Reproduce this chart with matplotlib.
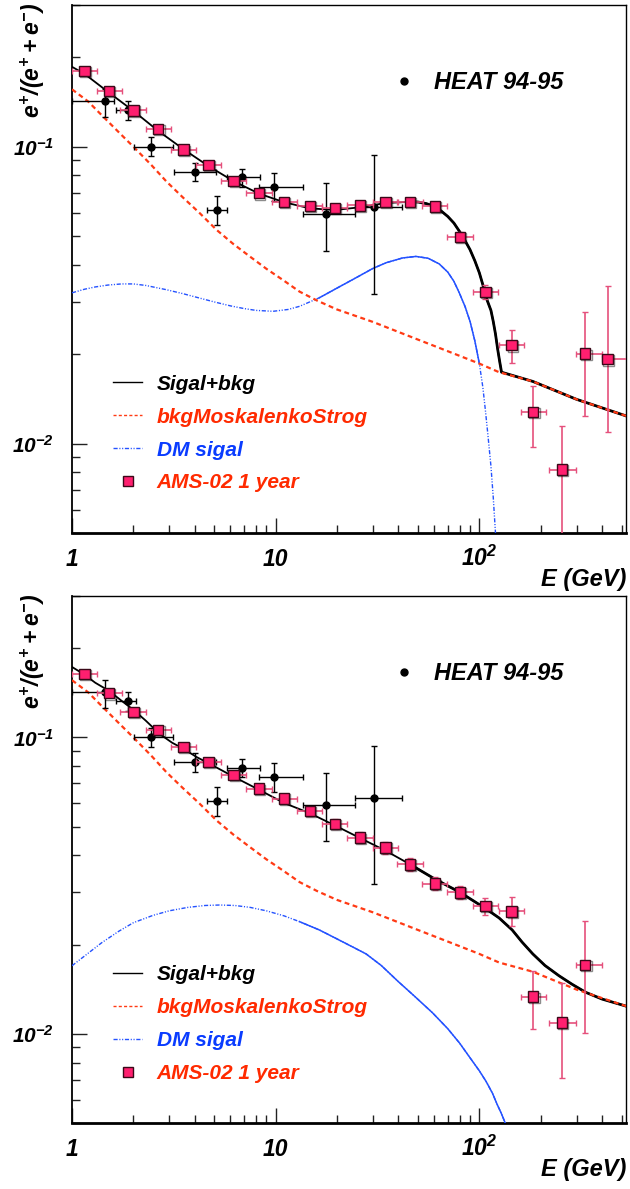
import matplotlib
matplotlib.use("Agg")
import matplotlib.pyplot as plt
import matplotlib.patheffects as pe
from matplotlib.lines import Line2D
from matplotlib.ticker import FixedLocator, FixedFormatter, LogLocator, NullFormatter

# ---- fonts (ROOT-like bold italic helvetica) ----
plt.rcParams["font.family"] = ["Liberation Sans", "DejaVu Sans"]
plt.rcParams["mathtext.fontset"] = "custom"
plt.rcParams["mathtext.rm"] = "Liberation Sans:bold:italic"
plt.rcParams["mathtext.it"] = "Liberation Sans:bold:italic"
plt.rcParams["mathtext.bf"] = "Liberation Sans:bold:italic"

# ---- data ----
# AMS-02 1 year (simulated), energy bins
ams_E = [1.15, 1.52, 2.0, 2.65, 3.53, 4.68, 6.22, 8.28, 11.0, 14.7, 19.5,
         25.9, 34.6, 45.7, 60.4, 80.4, 107, 144, 184, 255, 331, 426]
ams_Elo = [1.00, 1.32, 1.73, 2.30, 3.06, 4.06, 5.39, 7.18, 9.54, 12.7, 16.9,
           22.5, 30.0, 39.6, 52.4, 69.7, 92.8, 125, 160, 221, 298, 398]
ams_Ehi = [1.33, 1.75, 2.31, 3.06, 4.07, 5.40, 7.17, 9.55, 12.7, 16.9, 22.5,
           29.9, 39.9, 52.7, 69.6, 92.7, 123, 166, 212, 298, 398, 540]

# top panel
ams1 = [0.180, 0.154, 0.1325, 0.1147, 0.0977, 0.0868, 0.0767, 0.0697, 0.0652,
        0.0631, 0.0621, 0.0634, 0.0652, 0.0652, 0.0629, 0.0497, 0.0324,
        0.02145, 0.01277, 0.00818, 0.0201, 0.01924]
ams1_lo = [0.005, 0.0045, 0.004, 0.0035, 0.003, 0.0026, 0.0023, 0.0021, 0.002,
           0.002, 0.002, 0.002, 0.002, 0.002, 0.002, 0.0018, 0.0018,
           0.0028, 0.0030, 0.0052, 0.0077, 0.0083]
ams1_hi = [0.005, 0.0045, 0.004, 0.0035, 0.003, 0.0026, 0.0023, 0.0021, 0.002,
           0.002, 0.002, 0.002, 0.002, 0.002, 0.002, 0.0018, 0.0018,
           0.0026, 0.0029, 0.0033, 0.0076, 0.0146]

# bottom panel (last point lies below the frame)
ams2 = [0.164, 0.141, 0.122, 0.1059, 0.0928, 0.0828, 0.0747, 0.0672, 0.0622,
        0.0564, 0.051, 0.0459, 0.0425, 0.0373, 0.0321, 0.0300, 0.0270,
        0.0259, 0.01334, 0.0109, 0.0171, 0.0045]
ams2_lo = [0.005, 0.0045, 0.004, 0.0035, 0.003, 0.0026, 0.0023, 0.0021, 0.002,
           0.002, 0.002, 0.002, 0.002, 0.0018, 0.0016, 0.0015, 0.0018,
           0.0028, 0.0030, 0.0038, 0.0070, 0.0003]
ams2_hi = [0.005, 0.0045, 0.004, 0.0035, 0.003, 0.0026, 0.0023, 0.0021, 0.002,
           0.002, 0.002, 0.002, 0.002, 0.0018, 0.0016, 0.0015, 0.0018,
           0.0031, 0.0030, 0.0039, 0.0070, 0.0003]

# HEAT 94-95
heat_E = [1.446, 1.875, 2.44, 4.01, 5.14, 6.87, 9.81, 17.72, 30.3]
heat_Elo = [1.0, 1.65, 2.02, 3.15, 4.59, 5.77, 8.27, 13.58, 24.4]
heat_Ehi = [1.6, 2.07, 3.14, 5.12, 5.75, 8.4, 13.58, 24.4, 41.8]
heat_val = [0.1428, 0.1328, 0.1000, 0.0824, 0.0610, 0.0789, 0.0734, 0.0593, 0.0626]
heat_lo = [0.0167, 0.0099, 0.0069, 0.0057, 0.0065, 0.0055, 0.0080, 0.0146, 0.0307]
heat_hi = [0.0132, 0.0096, 0.0075, 0.0060, 0.0073, 0.0055, 0.0084, 0.0164, 0.0309]

# background (Moskalenko & Strong)
bkg_E = [1.0, 1.2, 1.37, 1.65, 2.0, 2.45, 2.91, 3.5, 4.24, 5.12, 6.2, 7.46, 9.0,
         10.9, 13.1, 16.0, 20, 30, 50, 75, 100, 125, 183, 300, 525]
bkg_val = [0.156, 0.142, 0.1295, 0.114, 0.100, 0.0868, 0.0763, 0.0675, 0.0597,
           0.0525, 0.0470, 0.0427, 0.0388, 0.0355, 0.0325, 0.0303, 0.0283,
           0.0257, 0.0224, 0.0201, 0.0186, 0.0174, 0.0162, 0.0141, 0.0124]

# DM signal, top panel
dm1_E = [1.0, 1.15, 1.3, 1.5, 1.75, 2.0, 2.3, 2.9, 3.5, 4.24, 5.0, 6.0, 7.0,
         8.0, 9.7, 11.5, 13.1, 16.4, 20, 25, 30, 35, 42, 48.8, 56, 63.5, 70,
         75, 79.7, 85, 90, 95, 100, 104, 107, 110, 114, 117, 120, 123, 125]
dm1_val = [0.0322, 0.0331, 0.0337, 0.0342, 0.0345, 0.0345, 0.0341, 0.0330,
           0.0320, 0.0309, 0.0300, 0.0291, 0.0285, 0.0281, 0.0279, 0.0283,
           0.0290, 0.0310, 0.0334, 0.0363, 0.0389, 0.0407, 0.0422, 0.0427,
           0.0421, 0.0403, 0.0378, 0.0352, 0.0322, 0.0290, 0.0258, 0.0222,
           0.0186, 0.0155, 0.0130, 0.0108, 0.0084, 0.0066, 0.0050, 0.0035,
           0.0025]

# signal + background, top panel
sig1_E = [1.0, 1.15, 1.52, 2.0, 2.65, 3.53, 4.68, 6.22, 8.28, 11.0, 14.7, 19.5,
          25.9, 34.6, 45.7, 50, 55, 60.4, 65, 70, 75, 80.4, 85, 90, 95, 100,
          104, 107, 110, 114, 117, 120, 123, 126, 128.5, 183, 300, 525]
sig1_val = [0.1857, 0.176, 0.152, 0.132, 0.113, 0.098, 0.086, 0.0765, 0.0695,
            0.0650, 0.0620, 0.0612, 0.0625, 0.0646, 0.0652, 0.0651, 0.0643,
            0.0629, 0.0607, 0.0582, 0.0553, 0.0515, 0.0483, 0.0450, 0.0413,
            0.0376, 0.0343, 0.0316, 0.0300, 0.0281, 0.0258, 0.0234, 0.0208,
            0.0188, 0.0174, 0.0162, 0.0141, 0.0124]

# DM signal, bottom panel
dm2_E = [1.0, 1.2, 1.4, 1.7, 2.0, 2.5, 3.0, 3.7, 4.5, 5.3, 6.3, 7.5, 9.0, 11,
         13.1, 16.4, 20, 24, 27.8, 33, 40, 48, 58.9, 70, 80, 90, 100, 108,
         116, 122, 128, 134, 140, 145]
dm2_val = [0.01697, 0.0187, 0.0203, 0.0222, 0.0237, 0.0251, 0.0260, 0.0267,
           0.0271, 0.0272, 0.0271, 0.0267, 0.0260, 0.0250, 0.0239, 0.0224,
           0.0209, 0.0196, 0.0186, 0.0170, 0.0150, 0.0134, 0.01177, 0.0104,
           0.0093, 0.0083, 0.0075, 0.0069, 0.0063, 0.0058, 0.0054, 0.0050,
           0.0040, 0.0030]

# signal + background, bottom panel
sig2_E = [1.0, 1.15, 1.3, 1.52, 1.75, 2.0, 2.3, 2.7, 3.1, 3.53, 4.1, 4.75, 6.22,
          8.35, 11.0, 14.7, 19.5, 25.9, 34.6, 45.7, 60.4, 80.4, 107, 125, 145,
          162, 183, 210, 246, 285, 333, 400, 525]
sig2_val = [0.1729, 0.163, 0.153, 0.1436, 0.133, 0.124, 0.114, 0.1026, 0.096,
            0.0915, 0.0858, 0.0814, 0.0737, 0.0664, 0.0601, 0.0555, 0.0505,
            0.0458, 0.0415, 0.0373, 0.0333, 0.0300, 0.0265, 0.0246, 0.0224,
            0.0204, 0.0186, 0.0170, 0.0157, 0.0147, 0.0138, 0.0131, 0.0124]

panels = [
    dict(ams=ams1, lo=ams1_lo, hi=ams1_hi, dm_E=dm1_E, dm=dm1_val,
         sig_E=sig1_E, sig=sig1_val, dm_solid=(15, 100)),
    dict(ams=ams2, lo=ams2_lo, hi=ams2_hi, dm_E=dm2_E, dm=dm2_val,
         sig_E=sig2_E, sig=sig2_val, dm_solid=(12, 200)),
]

# colours
c_pink = "#ff1f6f"
c_pinkbar = "#e5507c"
c_red = "#ff3a14"
c_blue = "#2452ff"
c_txt_red = "#ff2a00"
c_txt_blue = "#0a3cff"
dashdot = (3, 1.2, 0.8, 1.2, 0.8, 1.2)

fig = plt.figure(figsize=(6.3, 11.89), dpi=100)
rects = [[0.1143, 0.5517, 0.8794, 0.4441], [0.1143, 0.0555, 0.8794, 0.4432]]

for rect, p in zip(rects, panels):
    ax = fig.add_axes(rect)
    ax.set_xscale("log")
    ax.set_yscale("log")
    ax.set_xlim(1, 525)
    ax.set_ylim(0.005, 0.3)

    # curves
    ax.plot(p["sig_E"], p["sig"], color="black", lw=1.3, zorder=3)
    hiE = [(e, v) for e, v in zip(p["sig_E"], p["sig"]) if e >= 45]
    ax.plot([h[0] for h in hiE], [h[1] for h in hiE], color="black", lw=2.0,
            zorder=3)
    ax.plot(bkg_E, bkg_val, color=c_red, lw=1.6, dashes=(2.2, 1.6), zorder=4)
    ax.plot(p["dm_E"], p["dm"], color=c_blue, lw=1.0, dashes=dashdot, zorder=3)
    lo_e, hi_e = p["dm_solid"]
    mid = [(e, v) for e, v in zip(p["dm_E"], p["dm"]) if lo_e <= e <= hi_e]
    ax.plot([m[0] for m in mid], [m[1] for m in mid], color=c_blue, lw=1.1,
            zorder=3)

    # HEAT data
    ax.errorbar(heat_E, heat_val,
                xerr=[[e - l for e, l in zip(heat_E, heat_Elo)],
                      [h - e for e, h in zip(heat_E, heat_Ehi)]],
                yerr=[heat_lo, heat_hi], fmt="o", color="black", ms=5,
                elinewidth=1.0, capsize=2.2, capthick=1.0, zorder=5)

    # AMS-02 projection
    ax.errorbar(ams_E, p["ams"],
                xerr=[[e - l for e, l in zip(ams_E, ams_Elo)],
                      [h - e for e, h in zip(ams_E, ams_Ehi)]],
                yerr=[p["lo"], p["hi"]], fmt="none", ecolor=c_pinkbar,
                elinewidth=1.2, capsize=2.2, capthick=1.0, zorder=6)
    ax.plot(ams_E, p["ams"], ls="none", marker="s", ms=7.5,
            mfc=c_pink, mec="#3a0818", mew=1.0, zorder=7,
            path_effects=[pe.SimpleLineShadow(offset=(0.8, -0.8), alpha=0.45),
                          pe.Normal()])

    # axes style (ROOT like)
    for side in ["top", "right"]:
        ax.spines[side].set_linewidth(1.0)
    ax.spines["left"].set_linewidth(1.3)
    ax.spines["bottom"].set_linewidth(2.0)
    ax.tick_params(which="both", direction="in", top=False, right=False,
                   width=1.0, color="#222222")
    ax.tick_params(which="major", length=11)
    ax.tick_params(which="minor", length=5.5)

    ax.xaxis.set_major_locator(FixedLocator([1, 10, 100]))
    ax.xaxis.set_major_formatter(FixedFormatter(["1", "10", r"$10^{2}$"]))
    ax.xaxis.set_minor_locator(LogLocator(base=10, subs=range(2, 10)))
    ax.xaxis.set_minor_formatter(NullFormatter())
    ax.yaxis.set_major_locator(FixedLocator([0.01, 0.1]))
    ax.yaxis.set_major_formatter(FixedFormatter([r"$10^{-2}$", r"$10^{-1}$"]))
    ax.yaxis.set_minor_locator(LogLocator(base=10, subs=range(2, 10)))
    ax.yaxis.set_minor_formatter(NullFormatter())
    ax.tick_params(axis="x", which="major", pad=24, labelsize=16.5)
    ax.tick_params(axis="y", which="major", pad=13, labelsize=15)
    for lbl in ax.get_xticklabels():
        lbl.set_fontweight("bold")
        lbl.set_fontstyle("italic")
        lbl.set_va("baseline")
    for lbl in ax.get_yticklabels():
        lbl.set_fontweight("bold")
        lbl.set_fontstyle("italic")

    ax.text(1.0, -0.066, "E (GeV)", transform=ax.transAxes, ha="right",
            va="top", fontsize=17, fontweight="bold", fontstyle="italic")
    ax.text(-0.07, 1.006, r"$e^{+}/(e^{+}+e^{-})$", transform=ax.transAxes,
            rotation=90, ha="center", va="top", fontsize=16.5)

    # legends
    handles = [
        Line2D([], [], color="black", lw=1.0),
        Line2D([], [], color=c_red, lw=1.0, dashes=(2.2, 1.6)),
        Line2D([], [], color=c_blue, lw=1.0, dashes=dashdot),
        Line2D([], [], ls="none", marker="s", ms=7.5, mfc=c_pink,
               mec="#3a0818", mew=1.0),
    ]
    labels = ["Sigal+bkg", "bkgMoskalenkoStrog", "DM sigal", "AMS-02 1 year"]
    leg = ax.legend(handles, labels, loc="upper left",
                    bbox_to_anchor=(0.074, 0.30), frameon=False,
                    borderpad=0, borderaxespad=0, handlelength=1.4,
                    handletextpad=0.7, labelspacing=0.67,
                    prop=dict(family="Liberation Sans", weight="bold",
                              style="italic", size=15),
                    labelcolor=["black", c_txt_red, c_txt_blue, c_txt_red])
    ax.add_artist(leg)
    ax.legend([Line2D([], [], ls="none", marker="o", ms=5, color="black")],
              ["HEAT 94-95"], loc="upper left", bbox_to_anchor=(0.569, 0.875),
              frameon=False, borderpad=0, borderaxespad=0, handlelength=1.4,
              handletextpad=0.6,
              prop=dict(family="Liberation Sans", weight="bold",
                        style="italic", size=17))

fig.savefig("out.png", dpi=100)
